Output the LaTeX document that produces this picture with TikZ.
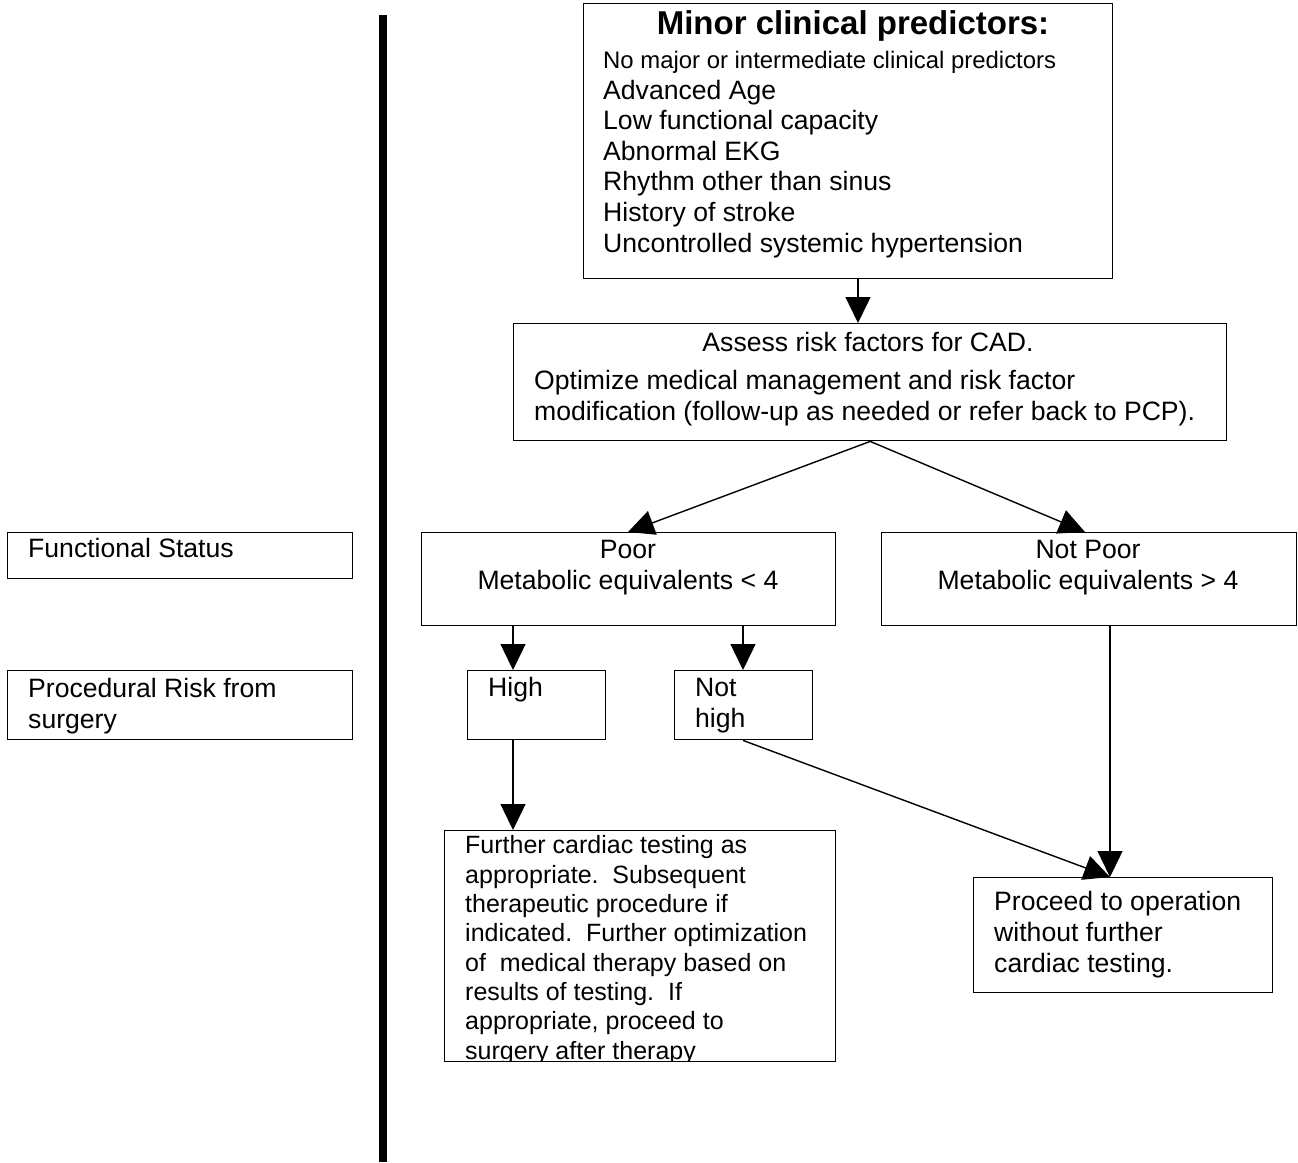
\documentclass[tikz,border=0pt]{standalone}
\usepackage{fontspec}
\setmainfont{Liberation Sans}
\usetikzlibrary{arrows.meta,calc}
\begin{document}
\begin{tikzpicture}[x=1pt,y=-1pt,
  box/.style={draw,line width=1.4pt,rectangle,inner sep=0pt,anchor=north west},
  txt/.style={inner sep=0pt,align=left,anchor=base west,font=\fontsize{26.6}{30.6}\selectfont},
  ctxt/.style={inner sep=0pt,align=center,anchor=base,font=\fontsize{26.6}{30.6}\selectfont},
  arr/.style={line width=1.4pt,-{Triangle[width=25pt,length=26pt]}}]
\useasboundingbox (0,0) rectangle (1298,1162);
% divider bar
\fill (379,15) rectangle (387,1162);
% boxes
\node[box,minimum width=529pt,minimum height=275pt] (minor) at (583,3) {};
\node[box,minimum width=713pt,minimum height=117pt] (assess) at (513,323) {};
\node[box,minimum width=414pt,minimum height=93pt] (poor) at (421,532) {};
\node[box,minimum width=415pt,minimum height=93pt] (notpoor) at (881,532) {};
\node[box,minimum width=138pt,minimum height=69pt] (high) at (467,670) {};
\node[box,minimum width=138pt,minimum height=69pt] (nothigh) at (674,670) {};
\node[box,minimum width=391pt,minimum height=231pt] (further) at (444,830) {};
\node[box,minimum width=299pt,minimum height=115pt] (proc) at (973,877) {};
\node[box,minimum width=345pt,minimum height=46pt] (fs) at (7,532) {};
\node[box,minimum width=345pt,minimum height=69pt] (pr) at (7,670) {};
% texts
\node[inner sep=0pt,anchor=base,font=\fontsize{33}{38}\selectfont\bfseries] (minortitle) at (853,34) {Minor clinical predictors:};
\node[inner sep=0pt,anchor=base west,font=\fontsize{23.9}{27}\selectfont] (minorsub) at (603,68) {No major or intermediate clinical predictors};
\node[txt] (minortxt) at (603,252) {Advanced Age\\Low functional capacity\\Abnormal EKG\\Rhythm other than sinus\\History of stroke\\Uncontrolled systemic hypertension};
\node[ctxt] (assesst) at (868,351) {Assess risk factors for CAD.};
\node[txt] (assesstxt) at (534,420) {Optimize medical management and risk factor\\modification (follow-up as needed or refer back to PCP).};
\node[ctxt] (poort) at (628,589) {Poor\\Metabolic equivalents < 4};
\node[ctxt] (notpoort) at (1088,589) {Not Poor\\Metabolic equivalents > 4};
\node[txt] (hight) at (488,696) {High};
\node[txt] (nothight) at (695,727) {Not\\high};
\begin{scope}
\clip ($(further.north west)+(1,1)$) rectangle ($(further.south east)+(-1,-1)$);
\node[txt,font=\fontsize{25}{29.3}\selectfont] (furthert) at (465,1059) {Further cardiac testing as\\appropriate.~~Subsequent\\therapeutic procedure if\\indicated.~~Further optimization\\of~~medical therapy based on\\results of testing.~~If\\appropriate, proceed to\\surgery after therapy};
\end{scope}
\node[txt] (proct) at (994,972) {Proceed to operation\\without further\\cardiac testing.};
\node[txt] (fst) at (28,557) {Functional Status};
\node[txt] (prt) at (28,728) {Procedural Risk from\\surgery};
% connectors
\draw[arr] ($(minor.south west)+(275,0)$) -- ($(assess.north west)+(345,0)$);
\draw[arr] (assess.south) -- ($(poor.north west)+(207,0)$);
\draw[arr] (assess.south) -- ($(notpoor.north west)+(204,0)$);
\draw[arr] ($(poor.south west)+(92,0)$) -- ($(high.north west)+(46,0)$);
\draw[arr] ($(poor.south west)+(322,0)$) -- ($(nothigh.north west)+(69,0)$);
\draw[arr] ($(high.south west)+(46,0)$) -- ($(further.north west)+(69,0)$);
\draw[arr] ($(nothigh.south west)+(69,0)$) -- ($(proc.north west)+(137,0)$);
\draw[arr] ($(notpoor.south west)+(229,0)$) -- ($(proc.north west)+(137,0)$);
\end{tikzpicture}
\end{document}
